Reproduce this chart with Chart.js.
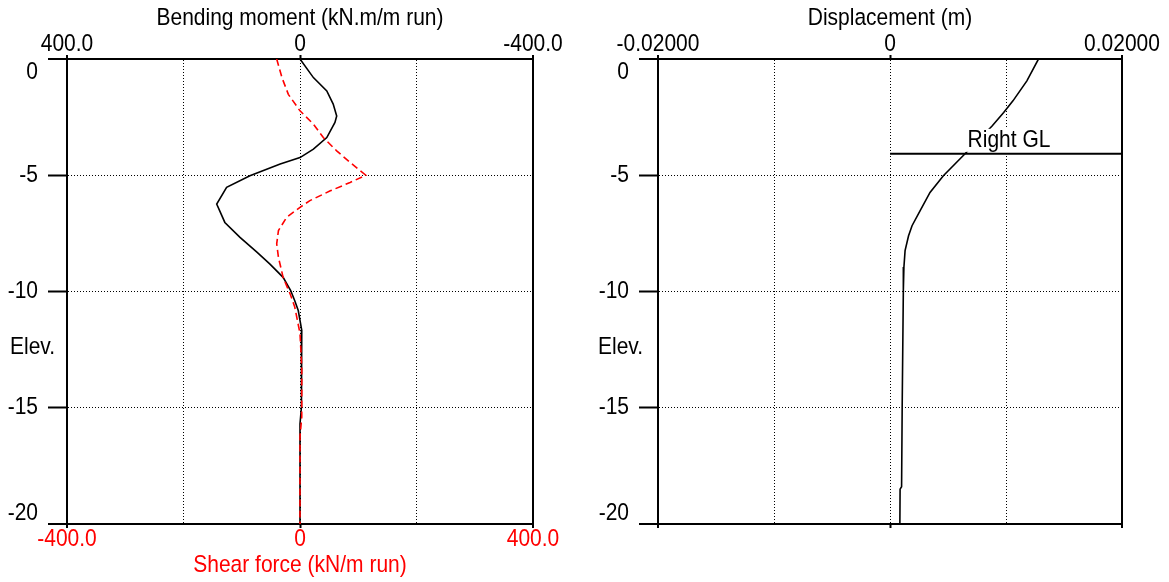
<!DOCTYPE html>
<html>
<head>
<meta charset="utf-8">
<title>Wall profiles</title>
<script src="https://cdn.jsdelivr.net/npm/chart.js@4.4.1/dist/chart.umd.min.js"></script>
<style>
  html, body { margin: 0; padding: 0; background: #fff; }
  #wrap { position: relative; width: 1169px; height: 582px; overflow: hidden; }
  .pane { position: absolute; top: 0; height: 582px; }
  #paneLeft { left: 0; width: 585px; }
  #paneRight { left: 585px; width: 584px; }
  canvas { display: block; }
</style>
</head>
<body>
<div id="wrap">
  <div class="pane" id="paneLeft"><canvas id="forces" width="585" height="582"></canvas></div>
  <div class="pane" id="paneRight"><canvas id="disp" width="584" height="582"></canvas></div>
</div>
<script>
// Elevation axis (m)
const elevTicks = [0, -5, -10, -15, -20];
const elevLabels = ['0', '-5', '-10', '-15', '-20'];

// Bending moment along the wall (kN.m/m run)
const momentElev = [0, -0.8, -1.37, -1.94, -2.45, -2.73, -3.38, -3.88, -4.24, -4.52, -5.02, -5.52, -6.24, -7.03, -7.67, -8.31, -8.81, -9.39, -9.96, -10.4, -10.82, -11.67, -13.95, -14.96, -15.7, -20];
const momentValues = [0, -23, -46, -57, -63, -60, -46, -23, 0, 34, 86, 126, 143, 129, 103, 74, 52, 29, 16, 9, 3, -3, -3, -2, 0, 0];

// Shear force along the wall (kN/m run)
const shearElev = [0, -0.8, -1.52, -2.23, -2.8, -3.38, -3.95, -4.45, -5.0, -5.31, -5.67, -6.09, -6.38, -6.81, -7.38, -7.95, -8.53, -9.39, -10.1, -10.67, -11.8, -13.25, -15.4, -16.25, -20];
const shearValues = [-40, -31, -20, 0, 23, 40, 63, 86, 113, 86, 52, 17, 0, -23, -37, -40, -37, -29, -17, -9, 0, 3, 3, 0, 0];

// Wall displacement (m)
const dispElev = [0, -0.94, -1.8, -2.3, -2.88, -4.16, -5.02, -5.74, -6.52, -7.17, -7.6, -8.24, -8.95, -9.96, -15.0, -18.4, -18.5, -20];
const dispValues = [0.0128, 0.0118, 0.0106, 0.0098, 0.0088, 0.0063, 0.0046, 0.00345, 0.0026, 0.0019, 0.0016, 0.0013, 0.0012, 0.00115, 0.00105, 0.001, 0.00087, 0.00085];

// Right ground level marker
const rightGLElev = -4.08;
const rightGLFrom = 0;
const rightGLTo = 0.02;
const rightGLLabel = 'Right GL';
const rightGLLabelAt = [0.01026, -3.52];

// Axis tick labels
const momentTicks = [400, 0, -400];
const momentLabels = ['400.0', '0', '-400.0'];
const shearTicks = [-400, 0, 400];
const shearLabels = ['-400.0', '0', '400.0'];
const dispTicks = [-0.02, 0, 0.02];
const dispLabels = ['-0.02000', '0', '0.02000'];

const FONT = '21px "Liberation Sans", Arial, Helvetica, sans-serif';
const TEXT_STRETCH = 1.12;   // slightly tall lettering
const RED = '#ff0000';
const DOT = [1, 2];

const toPoints = (ys, xs) => xs.map((x, i) => ({ x: x, y: ys[i] }));
const near = (a, b, lim) => Math.abs(a - b) < lim * 1e-6;
const isEdge = (v, lim) => near(Math.abs(v), lim, lim);
const hasTick = c => c && c.tick && typeof c.tick.value === 'number';

function drawText(ctx, s, x, y) {
  ctx.save();
  ctx.translate(x, y);
  ctx.scale(1, TEXT_STRETCH);
  ctx.fillText(s, 0, 0);
  ctx.restore();
}

// Horizontal value axis: dotted grid inside, solid frame, short outer ticks at ends and zero
function valueAxis(position, lim, reverse, onArea, fixedHeight) {
  return {
    type: 'linear',
    position: position,
    min: -lim, max: lim,
    reverse: reverse,
    ticks: { display: false, stepSize: lim / 2 },
    afterBuildTicks: s => { s.ticks = [-1, -0.5, 0, 0.5, 1].map(k => ({ value: k * lim })); },
    grid: {
      display: true,
      drawOnChartArea: onArea,
      drawTicks: true,
      tickLength: 4,
      color: '#000',
      lineWidth: c => (hasTick(c) && isEdge(c.tick.value, lim)) ? 2 : 1,
      tickWidth: 2,
      tickColor: c => (hasTick(c) && (isEdge(c.tick.value, lim) || near(c.tick.value, 0, lim))) ? '#000' : 'rgba(0,0,0,0)'
    },
    border: {
      display: true, color: '#000', width: 2,
      dash: c => (hasTick(c) && !isEdge(c.tick.value, lim)) ? DOT : []
    },
    afterFit: s => { s.height = fixedHeight; }
  };
}

function elevAxis(width) {
  return {
    type: 'linear',
    position: 'left',
    min: -20, max: 0,
    ticks: { display: false, stepSize: 5 },
    grid: {
      display: true,
      drawTicks: true,
      tickLength: 19,
      color: '#000',
      lineWidth: c => (hasTick(c) && (near(c.tick.value, 0, 20) || near(c.tick.value, -20, 20))) ? 2 : 1,
      tickWidth: 2,
      tickColor: '#000',
      tickBorderDash: []
    },
    border: {
      display: true, color: '#000', width: 2,
      dash: c => (hasTick(c) && !(near(c.tick.value, 0, 20) || near(c.tick.value, -20, 20))) ? DOT : []
    },
    afterFit: s => { s.width = width; }
  };
}

// Right-hand frame line of the plot
const frameAxis = {
  type: 'linear', position: 'right', min: -20, max: 0, display: true,
  ticks: { display: false },
  grid: { display: false, drawTicks: false },
  border: { display: true, color: '#000', width: 2 },
  afterFit: s => { s.width = 0; }
};

// Titles, tick labels and the elevation caption, placed from the chart's own scales
const textPlugin = {
  id: 'profileText',
  afterDraw(chart, args, o) {
    const { ctx, chartArea: a } = chart;
    const ys = chart.scales.y;
    ctx.save();
    ctx.font = FONT;
    ctx.textBaseline = 'middle';
    ctx.textAlign = 'center';
    ctx.fillStyle = '#000';
    drawText(ctx, o.title, (a.left + a.right) / 2, 19);
    const xt = chart.scales[o.topAxis];
    o.topTicks.forEach((v, i) => drawText(ctx, o.topLabels[i], xt.getPixelForValue(v), 45));
    if (o.bottomAxis) {
      const xb = chart.scales[o.bottomAxis];
      ctx.fillStyle = RED;
      o.bottomTicks.forEach((v, i) => drawText(ctx, o.bottomLabels[i], xb.getPixelForValue(v), 540));
      drawText(ctx, o.bottomTitle, (a.left + a.right) / 2, 566);
    }
    ctx.fillStyle = '#000';
    ctx.textAlign = 'right';
    elevTicks.forEach((v, i) => {
      let y = ys.getPixelForValue(v);
      if (i === 0) y += 14;
      else if (i === elevTicks.length - 1) y -= 10;
      drawText(ctx, elevLabels[i], a.left - 29, y);
    });
    ctx.textAlign = 'left';
    drawText(ctx, 'Elev.', o.elevX, ys.getPixelForValue(-12.5) - 2);
    ctx.restore();
  }
};

// Label for the ground level line, on a white box over the profile
const glLabelPlugin = {
  id: 'glLabel',
  afterDatasetsDraw(chart) {
    const { ctx } = chart;
    const x = chart.scales.x.getPixelForValue(rightGLLabelAt[0]);
    const y = chart.scales.y.getPixelForValue(rightGLLabelAt[1]);
    ctx.save();
    ctx.font = FONT;
    const w = ctx.measureText(rightGLLabel).width;
    ctx.fillStyle = '#fff';
    ctx.fillRect(x - w / 2 - 3, y - 12, w + 6, 23);
    ctx.fillStyle = '#000';
    ctx.textAlign = 'center';
    ctx.textBaseline = 'middle';
    drawText(ctx, rightGLLabel, x, y);
    ctx.restore();
  }
};

const common = {
  responsive: false,
  animation: false,
  devicePixelRatio: 1,
  events: [],
  plugins: { legend: { display: false }, tooltip: { enabled: false }, title: { display: false } },
  elements: { point: { radius: 0 }, line: { tension: 0 } }
};

new Chart(document.getElementById('forces'), {
  type: 'scatter',
  data: {
    datasets: [
      {
        label: 'Shear force',
        data: toPoints(shearElev, shearValues),
        xAxisID: 'xs', yAxisID: 'y',
        showLine: true, borderColor: RED, borderWidth: 1.6, borderDash: [7, 4],
        pointRadius: 0, fill: false
      },
      {
        label: 'Bending moment',
        data: toPoints(momentElev, momentValues),
        xAxisID: 'x', yAxisID: 'y',
        showLine: true, borderColor: '#000', borderWidth: 1.6,
        pointRadius: 0, fill: false
      }
    ]
  },
  options: Object.assign({}, common, {
    layout: { padding: { left: 0, right: 52, top: 0, bottom: 0 } },
    scales: {
      x: valueAxis('top', 400, true, true, 59),
      xs: valueAxis('bottom', 400, false, false, 58),
      y: elevAxis(67),
      yr: frameAxis
    },
    plugins: Object.assign({}, common.plugins, {
      profileText: {
        title: 'Bending moment (kN.m/m run)',
        topAxis: 'x', topTicks: momentTicks, topLabels: momentLabels,
        bottomAxis: 'xs', bottomTicks: shearTicks, bottomLabels: shearLabels,
        bottomTitle: 'Shear force (kN/m run)',
        elevX: 10
      }
    })
  }),
  plugins: [textPlugin]
});

new Chart(document.getElementById('disp'), {
  type: 'scatter',
  data: {
    datasets: [
      {
        label: 'Displacement',
        data: toPoints(dispElev, dispValues),
        xAxisID: 'x', yAxisID: 'y',
        showLine: true, borderColor: '#000', borderWidth: 1.6,
        pointRadius: 0, fill: false
      },
      {
        label: rightGLLabel,
        data: [{ x: rightGLFrom, y: rightGLElev }, { x: rightGLTo, y: rightGLElev }],
        xAxisID: 'x', yAxisID: 'y',
        showLine: true, borderColor: '#000', borderWidth: 2,
        pointRadius: 0, fill: false
      }
    ]
  },
  options: Object.assign({}, common, {
    layout: { padding: { left: 0, right: 47, top: 0, bottom: 0 } },
    scales: {
      x: valueAxis('top', 0.02, false, true, 59),
      xb: valueAxis('bottom', 0.02, false, false, 58),
      y: elevAxis(73),
      yr: frameAxis
    },
    plugins: Object.assign({}, common.plugins, {
      profileText: {
        title: 'Displacement (m)',
        topAxis: 'x', topTicks: dispTicks, topLabels: dispLabels,
        elevX: 13
      }
    })
  }),
  plugins: [textPlugin, glLabelPlugin]
});
</script>
</body>
</html>
